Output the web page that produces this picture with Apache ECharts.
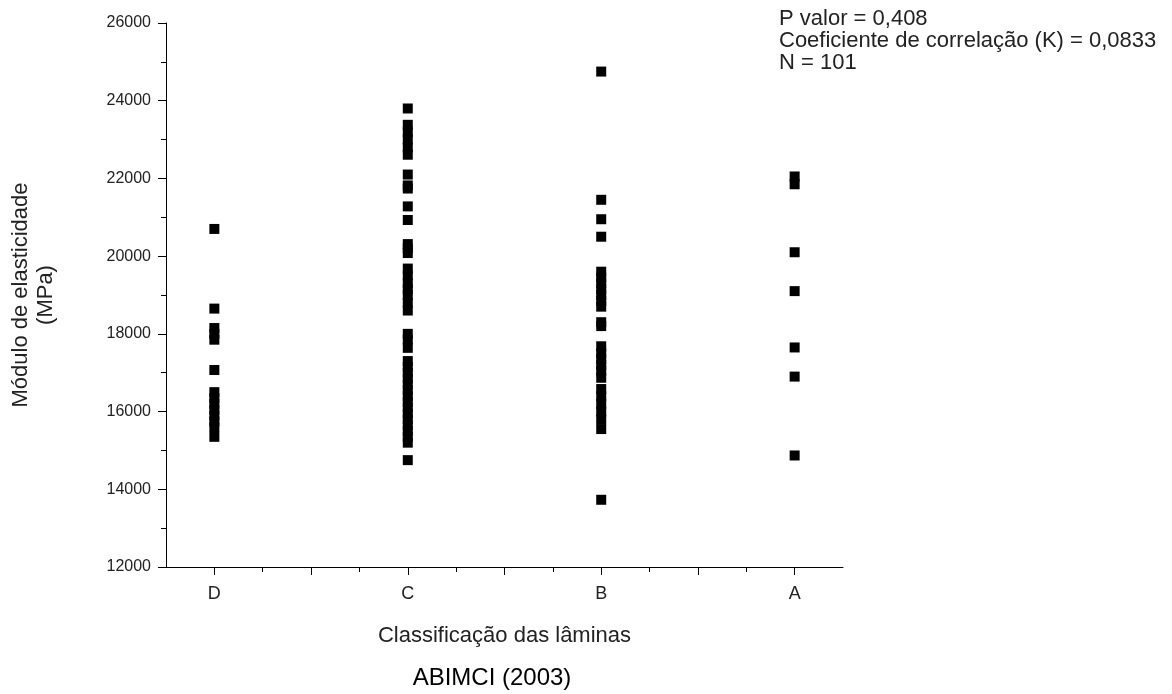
<!DOCTYPE html>
<html>
<head>
<meta charset="utf-8">
<script src="https://cdn.jsdelivr.net/npm/echarts@6/dist/echarts.min.js"></script>
<style>html,body{margin:0;padding:0;background:#fff}#c{width:1172px;height:694px}</style>
</head>
<body>
<div id="c"></div>
<script>
const categories = ['D', 'C', 'B', 'A'];
const valuesD = [20700, 18650, 18150, 18000, 17850, 17070, 16500, 16350, 16200, 16050, 15900, 15750, 15600, 15350];
const valuesC = [23800, 23380, 23200, 23000, 22800, 22610, 22100, 21820, 21740, 21280, 20930, 20310, 20200, 20080,
  19680, 19500, 19300, 19150, 19000, 18800, 18600, 18000, 17850, 17640, 17300, 17150, 17000, 16850, 16700,
  16550, 16400, 16250, 16100, 15950, 15800, 15650, 15500, 15350, 15200, 14750];
const valuesB = [24750, 21450, 20950, 20500, 19600, 19450, 19300, 19150, 19000, 18850, 18700, 18300, 18200,
  17680, 17500, 17350, 17200, 17050, 16870, 16580, 16400, 16200, 16000, 15800, 15550, 13730];
const valuesA = [22050, 21850, 20100, 19100, 17650, 16900, 14870];
const xMajorTicks = [1, 1.5, 2, 2.5, 3, 3.5, 4];
const xMinorTicks = [1.25, 1.75, 2.25, 2.75, 3.25, 3.75];
const xLabelTicks = [1, 2, 3, 4];
const annotation = ['P valor = 0,408', 'Coeficiente de correlação (K) = 0,0833', 'N = 101'];

const allValues = [valuesD, valuesC, valuesB, valuesA];
const points = [];
allValues.forEach((arr, i) => arr.forEach(v => points.push([i + 1, v])));

const FONT = 'Liberation Sans, Arial, sans-serif';
const TXT = '#222';
const chart = echarts.init(document.getElementById('c'));
chart.setOption({
  animation: false,
  grid: { left: 165, right: 329, top: 23, bottom: 127 },
  xAxis: [{
    type: 'value', min: 0.75, max: 4.25,
    name: 'Classificação das lâminas', nameLocation: 'middle', nameGap: 58,
    nameTextStyle: { fontFamily: FONT, fontSize: 22, color: TXT },
    axisLine: { show: true, lineStyle: { color: '#000', width: 1 } },
    axisTick: { show: true, customValues: xMajorTicks, length: 8, lineStyle: { color: '#000' } },
    axisLabel: { customValues: xLabelTicks, margin: 18, fontFamily: FONT, fontSize: 18, color: TXT,
      formatter: v => categories[Math.round(v) - 1] || '' },
    splitLine: { show: false }
  }, {
    type: 'value', min: 0.75, max: 4.25, position: 'bottom',
    axisLine: { show: false },
    axisTick: { show: true, customValues: xMinorTicks, length: 5, lineStyle: { color: '#000' } },
    axisLabel: { show: false },
    splitLine: { show: false }
  }],
  yAxis: {
    type: 'value', min: 12000, max: 26000, interval: 2000,
    name: 'Módulo de elasticidade\n(MPa)', nameLocation: 'middle', nameGap: 108, nameRotate: 90,
    nameTextStyle: { fontFamily: FONT, fontSize: 22, color: TXT, lineHeight: 25 },
    axisLine: { show: true, lineStyle: { color: '#000', width: 1 } },
    axisTick: { show: true, length: 8, lineStyle: { color: '#000' } },
    minorTick: { show: true, splitNumber: 2, length: 5, lineStyle: { color: '#000' } },
    axisLabel: { margin: 15, fontFamily: FONT, fontSize: 16, color: TXT, formatter: v => String(v) },
    splitLine: { show: false }
  },
  series: [{
    type: 'scatter', xAxisIndex: 0, data: points,
    symbol: 'rect', symbolSize: 10,
    itemStyle: { color: '#000', opacity: 1 }
  }],
  graphic: [{
    type: 'text', left: 779, top: 8,
    style: { text: annotation.join('\n'), fontFamily: FONT, fontSize: 22, lineHeight: 22, fill: TXT }
  }, {
    type: 'text', x: 492, y: 678,
    style: { text: 'ABIMCI (2003)', fontFamily: FONT, fontSize: 24, fill: '#000',
      textAlign: 'center', textVerticalAlign: 'middle' }
  }]
});
</script>
</body>
</html>
